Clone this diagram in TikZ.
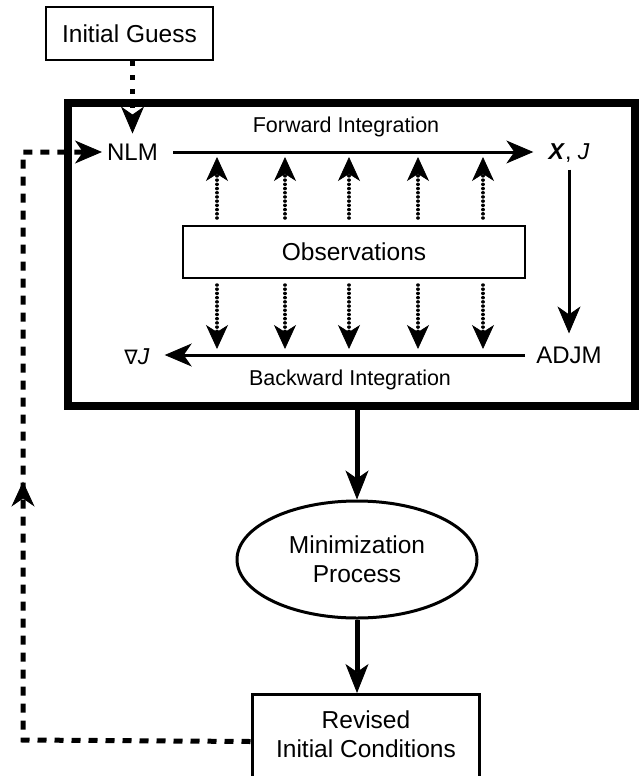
\documentclass[tikz,border=0pt]{standalone}
\usepackage{fontspec}
\setmainfont{Liberation Sans}
\newfontfamily\dejavu{DejaVu Sans}
\usetikzlibrary{arrows.meta,shapes.geometric,decorations.markings}
\tikzset{
  >={Stealth[length=27pt,width=23pt,inset=8pt,line width=0.8pt]},
  lbl/.style={inner sep=0pt, font=\fontsize{24pt}{29pt}\selectfont},
  sublbl/.style={inner sep=0pt, font=\fontsize{21.5pt}{25pt}\selectfont},
  boxnode/.style={draw, inner sep=0pt, font=\fontsize{24.5pt}{29pt}\selectfont},
  solidarr/.style={line width=3pt, ->},
  thickarr/.style={line width=5pt, -{Stealth[length=29pt,width=23pt,inset=8pt,line width=0.8pt]}},
  dotarr/.style={line width=3.5pt, line cap=round, dash pattern=on 0.01pt off 4.2pt,
     -{Stealth[length=24pt,width=22pt,inset=7pt,line width=0.8pt]}},
  feedback/.style={line width=5pt, dash pattern=on 9pt off 8pt},
  igarr/.style={line width=5pt, dash pattern=on 5pt off 9pt, ->},
}
\begin{document}
\begin{tikzpicture}[x=1pt,y=-1pt]
\useasboundingbox (0,0) rectangle (639,776);

% boxes
\node[boxnode, line width=2.5pt, minimum width=167pt, minimum height=53pt] (ig) at (129.5,33.5) {Initial Guess};
\node[draw, line width=8pt, minimum width=567pt, minimum height=303pt, inner sep=0pt] (bigbox) at (351,254) {};
\node[boxnode, line width=2pt, minimum width=342pt, minimum height=52pt] (obs) at (354,251.5) {Observations};
\node[boxnode, ellipse, line width=3pt, minimum width=240pt, minimum height=117pt, align=center] (minim) at (357,559.5) {Minimization\\Process};
\node[draw, line width=3pt, minimum width=227pt, minimum height=94pt, inner sep=0pt, anchor=north] (rev) at (365.5,693) {};
\node[lbl, align=center, font=\fontsize{24.5pt}{29pt}\selectfont] (revtext) at (366,734) {Revised\\Initial Conditions};

% labels inside big box
\node[lbl] (nlm) at (132.5,152) {NLM};
\node[lbl, font=\fontsize{23pt}{27pt}\selectfont] (xj) at (569,153) {\textbf{\textit{X}}, \textit{J}};
\node[lbl] (adjm) at (569,355) {ADJM};
\node[lbl, font=\fontsize{23pt}{27pt}\selectfont] (nablaj) at (137,357) {{\dejavu\fontsize{20pt}{24pt}\selectfont ∇}\textit{J}};
\node[sublbl] (fwdlbl) at (346,127) {Forward Integration};
\node[sublbl] (bwdlbl) at (350,380) {Backward Integration};

% integration arrows
\draw[solidarr, shorten <=15pt, shorten >=15pt] (nlm.east) -- (nlm.east -| xj.west);
\draw[solidarr, shorten <=11pt, shorten >=15pt] (adjm.west) -- (adjm.west -| nablaj.east);
\draw[solidarr, shorten <=7pt, shorten >=13pt] (xj.south -| adjm.north) -- (adjm.north);

% observation arrows
\foreach \x in {217,285,349,418,483} {
  \draw[dotarr] (\x,218) -- (\x,157);
  \draw[dotarr] (\x,285) -- (\x,349);
}

% initial guess
\draw[igarr, shorten >=10pt] (ig.south -| nlm.north) -- (nlm.north);

% flow
\draw[thickarr] (bigbox.south -| minim.north) -- (minim.north);
\draw[thickarr] (minim.south) -- (minim.south |- rev.north);

% feedback
\coordinate (fbA) at (23,740);
\coordinate (fbB) at (23,152);
\draw[feedback, shorten >=5pt, ->,
  postaction={decorate},
  decoration={markings, mark=at position 486pt with {\arrow{Stealth[length=25pt,width=23pt,inset=8pt,line width=0.8pt]}}}]
  (rev.west) -- (fbA) -- (fbB) -- (nlm.west);
\end{tikzpicture}
\end{document}
